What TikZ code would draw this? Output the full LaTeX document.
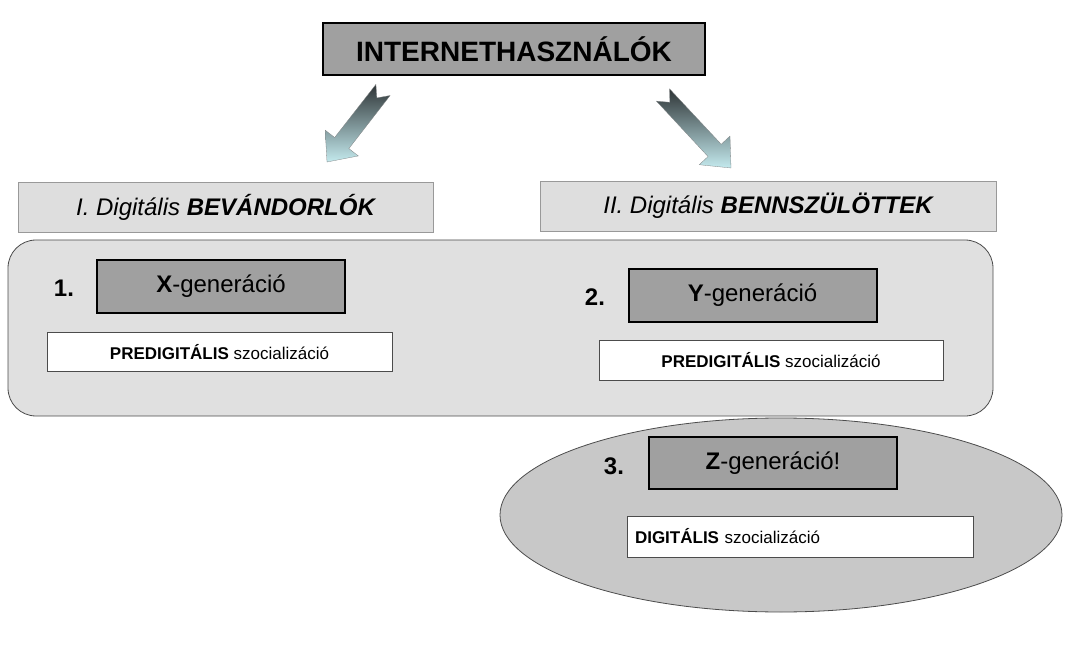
\documentclass[tikz,border=0pt]{standalone}
\usepackage{fontspec}
\setmainfont{Liberation Sans}
\usetikzlibrary{calc}
\definecolor{boxgray}{HTML}{A0A0A0}
\definecolor{lightbox}{HTML}{DEDEDE}
\definecolor{panel}{HTML}{E0E0E0}
\definecolor{ellfill}{HTML}{C8C8C8}
\definecolor{arrdark}{HTML}{2E3436}
\definecolor{arrlight}{HTML}{C4EAEE}
\tikzset{
  genbox/.style={draw=black, line width=2pt, fill=boxgray, minimum width=248pt, minimum height=52pt, font=\fontsize{24}{28}\selectfont},
  topbox/.style={draw=black, line width=1.5pt, fill=boxgray, minimum width=382pt, minimum height=52pt, font=\fontsize{28}{32}\selectfont\bfseries},
  catbox/.style={draw=black!40, line width=0.5pt, fill=lightbox, minimum height=50pt, font=\fontsize{24}{28}\selectfont\itshape},
  socbox/.style={draw=black!70, line width=0.6pt, fill=white, minimum width=345pt, minimum height=39pt, font=\fontsize{17}{20}\selectfont},
  num/.style={font=\fontsize{24}{28}\selectfont\bfseries},
}
\newcommand{\fatarrow}[2]{%
  \path let \p1=($(#2)-(#1)$), \n1={veclen(\x1,\y1)} in
    coordinate (q1) at ($(#1)!9pt!90:(#2)$)
    coordinate (q2) at ($($(#1)!\n1-24pt!(#2)$)!9pt!90:(#2)$)
    coordinate (q3) at ($($(#1)!\n1-24pt!(#2)$)!21pt!90:(#2)$)
    coordinate (q4) at ($($(#1)!\n1-24pt!(#2)$)!21pt!-90:(#2)$)
    coordinate (q5) at ($($(#1)!\n1-24pt!(#2)$)!9pt!-90:(#2)$)
    coordinate (q6) at ($(#1)!9pt!-90:(#2)$)
    coordinate (q7) at ($(#1)!10pt!(#2)$);
  \shade[top color=arrdark, bottom color=arrlight, draw=arrdark!60, line width=0.3pt]
    (q1)--(q2)--(q3)--(#2)--(q4)--(q5)--(q6)--(q7)--cycle;
}
\begin{document}
\begin{tikzpicture}[x=1pt,y=-1pt]
\useasboundingbox (0,0) rectangle (1082,655);
\node[topbox] (top) at (514,49) {INTERNETHASZNÁLÓK};
\coordinate (la) at (383,90); \coordinate (lb) at (327,162);
\coordinate (ra) at (663,95); \coordinate (rb) at (731,168);
\fatarrow{la}{lb}
\fatarrow{ra}{rb}
\node[catbox, minimum width=415pt] (imm) at (225.5,207) {I. Digitális \textbf{BEVÁNDORLÓK}};
\node[catbox, minimum width=456pt] (nat) at (768,206) {II. Digitális \textbf{BENNSZÜLÖTTEK}};
\draw[fill=panel, draw=black!70, line width=0.8pt, rounded corners=28pt] (8,240) rectangle (993,416);
\draw[fill=ellfill, draw=black!70, line width=0.8pt] (781,515) ellipse [x radius=281, y radius=97];
\node[num] (n1) at (64,288) {1.};
\node[genbox] (x) at (221,286.5) {\textbf{X}-generáció};
\node[socbox] (sx) at (219.5,352) {\textbf{PREDIGITÁLIS} szocializáció};
\node[num] (n2) at (595,297) {2.};
\node[genbox] (y) at (752.5,295.5) {\textbf{Y}-generáció};
\node[socbox, minimum width=344pt, minimum height=40pt] (sy) at (771,360) {\textbf{PREDIGITÁLIS} szocializáció};
\node[num] (n3) at (614,466) {3.};
\node[genbox] (z) at (773,463) {\textbf{Z}-generáció!};
\node[socbox, minimum width=346pt, minimum height=41pt, text width=330pt, align=left] (sz) at (800,536.5) {\textbf{DIGITÁLIS} szocializáció};
\end{tikzpicture}
\end{document}
